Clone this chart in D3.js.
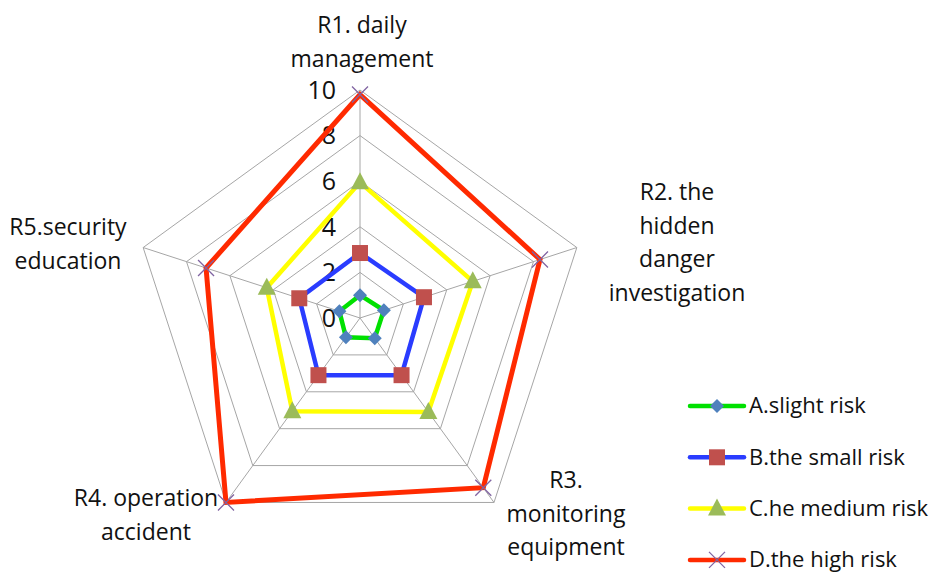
<!DOCTYPE html>
<html><head><meta charset="utf-8">
<script src="https://cdn.jsdelivr.net/npm/d3@7"></script>
<style>body{margin:0;background:#fff}svg{display:block}text{font-family:"Open Sans","DejaVu Sans",sans-serif;fill:#111}</style>
</head><body><svg id="c" width="936" height="574"></svg>
<script>
const categories = [["R1. daily","management"],["R2. the","hidden","danger","investigation"],["R3.","monitoring","equipment"],["R4. operation","accident"],["R5.security","education"]];
const seriesNames = ["A.slight risk","B.the small risk","C.he medium risk","D.the high risk"];
const seriesA = [1.0,1.1,1.1,1.05,0.95];
const seriesB = [2.85,2.95,3.1,3.1,2.8];
const seriesC = [5.95,5.2,5.1,5.05,4.3];
const seriesD = [9.8,8.3,9.2,10,7.1];
const tickValues = [0,2,4,6,8,10];
const lineColors = ["#00e000","#2a3cff","#ffff00","#ff2a00"];
const markerColors = ["#4f81bd","#c0504d","#9bbb59","#8064a2"];
const markerTypes = ["diamond","square","triangle","x"];

const svg = d3.select("#c");
const cx = 360, cy = 318, R = 228;
const r = d3.scaleLinear().domain([0,10]).range([0,R]);
const n = 5;
const ang = i => i*2*Math.PI/n;
const pt = (i,v) => [cx + r(v)*Math.sin(ang(i)), cy - r(v)*Math.cos(ang(i))];

const g = svg.append("g");
tickValues.filter(t=>t>0).forEach(t=>{
  g.append("polygon").attr("points", d3.range(n).map(i=>pt(i,t).join(",")).join(" "))
   .attr("fill","none").attr("stroke","#a6a6a6").attr("stroke-width",1);
});
d3.range(n).forEach(i=>{
  const p = pt(i,10);
  g.append("line").attr("x1",cx).attr("y1",cy).attr("x2",p[0]).attr("y2",p[1]).attr("stroke","#a6a6a6").attr("stroke-width",1);
});
tickValues.forEach(t=>{
  g.append("text").attr("x",cx-24).attr("y",cy - r(t)).attr("dy","0.35em").attr("text-anchor","end")
   .attr("font-size",25).text(t);
});
const labelPos = [[362,25],[677,192],[566,480],[146,498],[68,227]];
categories.forEach((lines,i)=>{
  const t = g.append("text").attr("text-anchor","middle").attr("font-size",23);
  lines.forEach((s,k)=>{
    t.append("tspan").attr("x",labelPos[i][0]).attr("y",labelPos[i][1]+k*33.5).attr("dy","0.35em").text(s);
  });
});

const allSeries = [seriesA,seriesB,seriesC,seriesD];
const line = d3.line().curve(d3.curveLinearClosed);
function marker(sel,type,color,x,y){
  if(type==="diamond") sel.append("path").attr("d",`M${x},${y-7}L${x+7},${y}L${x},${y+7}L${x-7},${y}Z`).attr("fill",color);
  else if(type==="square") sel.append("rect").attr("x",x-8).attr("y",y-8).attr("width",16).attr("height",16).attr("fill",color);
  else if(type==="triangle") sel.append("path").attr("d",`M${x},${y-10}L${x+9},${y+7}L${x-9},${y+7}Z`).attr("fill",color);
  else sel.append("path").attr("d",`M${x-8},${y-8}L${x+8},${y+8}M${x-8},${y+8}L${x+8},${y-8}`).attr("stroke",color).attr("stroke-width",1.3).attr("fill","none");
}
allSeries.forEach((vals,s)=>{
  const pts = vals.map((v,i)=>pt(i,v));
  g.append("path").attr("d",line(pts)).attr("fill","none").attr("stroke",lineColors[s]).attr("stroke-width",s===3?5:4.5).attr("stroke-linejoin","miter");
  pts.forEach(p=>marker(g,markerTypes[s],markerColors[s],p[0],p[1]));
});
const lg = svg.append("g");
seriesNames.forEach((nm,s)=>{
  const y = 406 + s*51.3;
  lg.append("line").attr("x1",690).attr("x2",744).attr("y1",y).attr("y2",y).attr("stroke",lineColors[s]).attr("stroke-width",4.5).attr("stroke-linecap","round");
  marker(lg,markerTypes[s],markerColors[s],717,y);
  lg.append("text").attr("x",749).attr("y",y).attr("dy","0.33em").attr("font-size",22).text(nm);
});
</script></body></html>
